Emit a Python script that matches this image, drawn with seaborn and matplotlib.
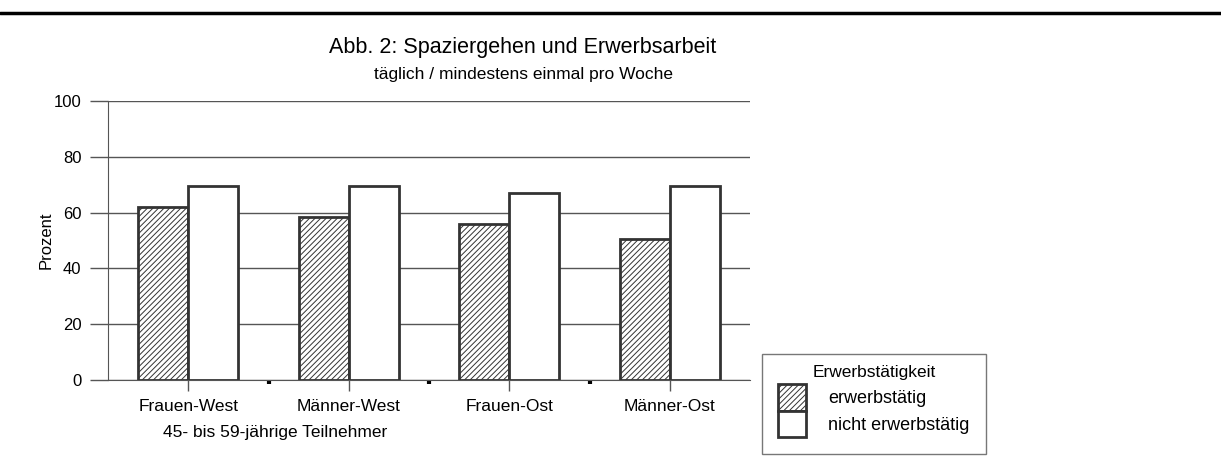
import pandas as pd
import matplotlib
matplotlib.use("Agg")
import matplotlib.pyplot as plt
from matplotlib.patches import Patch
from matplotlib.lines import Line2D
import seaborn as sns

# Data
groups = ["Frauen-West", "Männer-West", "Frauen-Ost", "Männer-Ost"]
status = ["erwerbstätig", "nicht erwerbstätig"]
erwerbstaetig = [62, 58.5, 56, 50.5]
nicht_erwerbstaetig = [69.5, 69.5, 67, 69.5]
yticks = [0, 20, 40, 60, 80, 100]

df = pd.DataFrame({
    "Gruppe": groups * 2,
    "Status": [status[0]] * 4 + [status[1]] * 4,
    "Prozent": erwerbstaetig + nicht_erwerbstaetig,
})

sns.set_style("white")
plt.rcParams['font.family'] = ['Liberation Sans', 'DejaVu Sans']
plt.rcParams['hatch.linewidth'] = 0.7
plt.rcParams['text.color'] = 'black'

edge = "#333333"
fig = plt.figure(figsize=(12.21, 4.74), dpi=100)
ax = fig.add_axes([108 / 1221, 1 - 380 / 474, 642 / 1221, 279 / 474])

sns.barplot(data=df, x="Gruppe", y="Prozent", hue="Status", order=groups,
            hue_order=status, width=0.625, ax=ax, legend=False,
            palette=["white", "white"], edgecolor=edge, linewidth=2)

for bar in ax.containers[0]:
    bar.set_hatch("//////")
    bar.set_facecolor("white")
    bar.set_edgecolor(edge)
for bar in ax.containers[1]:
    bar.set_facecolor("white")

# axes styling
ax.set_ylim(0, 100)
ax.set_xlim(-0.5, 3.5)
ax.set_yticks(yticks)
ax.yaxis.grid(True, color="#555555", linewidth=1)
ax.set_axisbelow(True)
for s in ["top", "right"]:
    ax.spines[s].set_visible(False)
ax.spines["left"].set_color("#555555")
ax.spines["bottom"].set_color("#555555")
ax.tick_params(axis="y", left=True, length=13, width=1, color="#555555",
               labelsize=12, pad=6, labelcolor="black")
ax.set_xticks(range(4))
ax.set_xticks([0.5, 1.5, 2.5], minor=True)
ax.tick_params(axis="x", bottom=True, length=8, width=1, color="#555555",
               labelsize=12.5, pad=6, labelcolor="black")
ax.tick_params(axis="x", which="minor", bottom=True, length=3, width=3,
               color="black", direction="out")

ax.set_ylabel("Prozent", fontsize=12, color="black")
ax.yaxis.set_label_coords(-0.085, 0.5)
ax.set_xlabel("45- bis 59-jährige Teilnehmer", fontsize=12.5, color="black")
ax.xaxis.set_label_coords((275 - 108) / 642, -0.16)

# titles
fig.text(523 / 1221, 1 - 47 / 474, "Abb. 2: Spaziergehen und Erwerbsarbeit",
         ha="center", va="center", fontsize=15.5)
fig.text(523 / 1221, 1 - 75 / 474, "täglich / mindestens einmal pro Woche",
         ha="center", va="center", fontsize=12.5)

# top rule
fig.add_artist(Line2D([0, 1], [1 - 13 / 474, 1 - 13 / 474], color="black",
                      linewidth=2.5, transform=fig.transFigure))

# legend
handles = [Patch(facecolor="white", edgecolor=edge, hatch="//////", linewidth=2),
           Patch(facecolor="white", edgecolor=edge, linewidth=2)]
leg = fig.legend(handles, status, title="Erwerbstätigkeit",
                 loc="upper left", bbox_to_anchor=(762 / 1221, 1 - 354 / 474),
                 frameon=True, fancybox=False, fontsize=13, title_fontsize=12.5,
                 handlelength=1.55, handleheight=1.9, borderpad=0.6,
                 labelspacing=0.0, handletextpad=1.2, borderaxespad=0)
leg.get_frame().set_edgecolor("#555555")
leg.get_frame().set_linewidth(1)
leg._legend_handle_box.pad = 4
leg._legend_box.sep = -1

fig.savefig("out.png", dpi=100)
